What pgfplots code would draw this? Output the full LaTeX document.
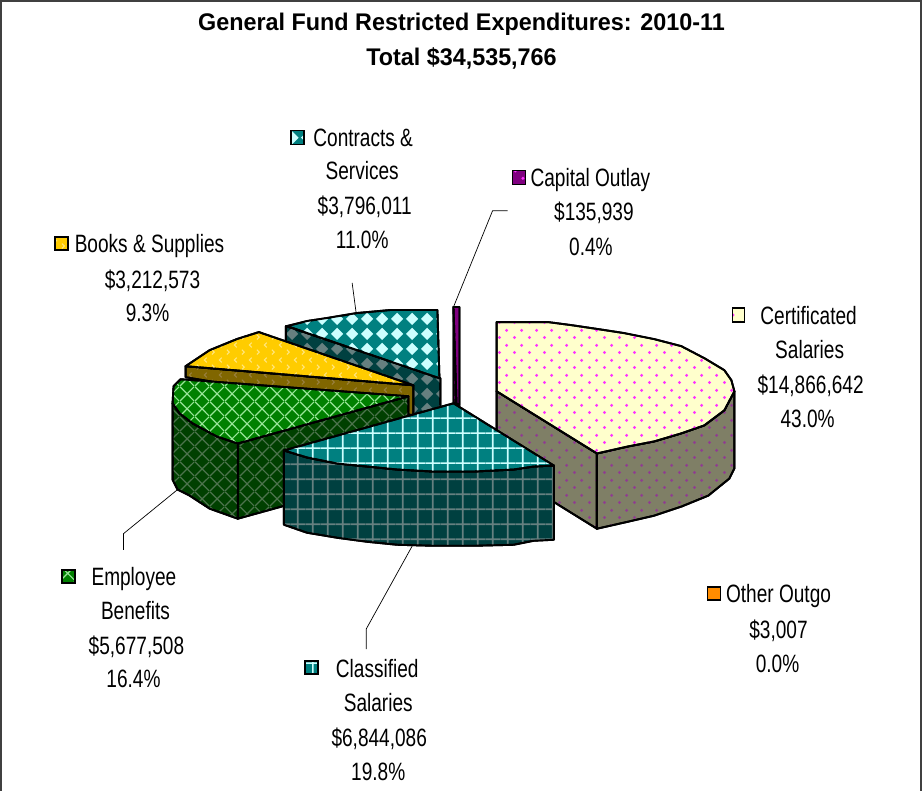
\documentclass[border=0pt]{standalone}
\usepackage{fontspec}
\setmainfont{Liberation Sans}[FakeStretch=0.76]
\newfontfamily\titlefont{Liberation Sans}[FakeStretch=0.97]
\usepackage{pgfplots}
\pgfplotsset{compat=1.18}
\usetikzlibrary{patterns}
\pgfdeclarepatternformonly{pdots}{\pgfqpoint{0pt}{0pt}}{\pgfqpoint{15pt}{15pt}}{\pgfqpoint{15pt}{15pt}}{%
 \pgfpathcircle{\pgfqpoint{3.75pt}{3.75pt}}{1.7pt}\pgfpathcircle{\pgfqpoint{11.25pt}{11.25pt}}{1.7pt}\pgfusepath{fill}}
\pgfdeclarepatternformonly{pgrid}{\pgfqpoint{0pt}{0pt}}{\pgfqpoint{15.3pt}{15.3pt}}{\pgfqpoint{15.3pt}{15.3pt}}{%
 \pgfsetlinewidth{1.6pt}\pgfpathmoveto{\pgfqpoint{7pt}{0pt}}\pgfpathlineto{\pgfqpoint{7pt}{15.3pt}}%
 \pgfpathmoveto{\pgfqpoint{0pt}{7pt}}\pgfpathlineto{\pgfqpoint{15.3pt}{7pt}}\pgfusepath{stroke}}
\pgfdeclarepatternformonly{pdiag}{\pgfqpoint{0pt}{0pt}}{\pgfqpoint{15pt}{15pt}}{\pgfqpoint{15pt}{15pt}}{%
 \pgfsetlinewidth{1.2pt}\pgfpathmoveto{\pgfqpoint{0pt}{0pt}}\pgfpathlineto{\pgfqpoint{15pt}{15pt}}%
 \pgfpathmoveto{\pgfqpoint{0pt}{15pt}}\pgfpathlineto{\pgfqpoint{15pt}{0pt}}\pgfusepath{stroke}}
\pgfdeclarepatternformonly{pdiam}{\pgfqpoint{0pt}{0pt}}{\pgfqpoint{15pt}{15pt}}{\pgfqpoint{15pt}{15pt}}{%
 \pgfpathmoveto{\pgfqpoint{7.5pt}{1pt}}\pgfpathlineto{\pgfqpoint{14pt}{7.5pt}}\pgfpathlineto{\pgfqpoint{7.5pt}{14pt}}\pgfpathlineto{\pgfqpoint{1pt}{7.5pt}}\pgfpathclose
 \pgfusepath{fill}}
\pgfdeclarepatternformonly{pchev}{\pgfqpoint{0pt}{0pt}}{\pgfqpoint{15pt}{15pt}}{\pgfqpoint{15pt}{15pt}}{%
 \pgfsetlinewidth{1.1pt}\pgfpathmoveto{\pgfqpoint{2pt}{1.5pt}}\pgfpathlineto{\pgfqpoint{4.5pt}{4pt}}\pgfpathlineto{\pgfqpoint{2pt}{6.5pt}}%
 \pgfpathmoveto{\pgfqpoint{12.5pt}{9pt}}\pgfpathlineto{\pgfqpoint{10pt}{11.5pt}}\pgfpathlineto{\pgfqpoint{12.5pt}{14pt}}\pgfusepath{stroke}}
\definecolor{certT}{HTML}{FFFFCC}\definecolor{certTp}{HTML}{FF33FF}
\definecolor{certS}{HTML}{7F7F66}\definecolor{certSp}{HTML}{8F3F8F}
\definecolor{tealT}{HTML}{008080}\definecolor{tealTp}{HTML}{CCFFFF}
\definecolor{tealS}{HTML}{004040}\definecolor{tealSp}{HTML}{668080}
\definecolor{grnT}{HTML}{008000}\definecolor{grnTp}{HTML}{99E699}
\definecolor{grnS}{HTML}{004000}\definecolor{grnSp}{HTML}{4D734D}
\definecolor{bkT}{HTML}{FFCC00}\definecolor{bkTp}{HTML}{FFE680}
\definecolor{bkS}{HTML}{806600}\definecolor{bkSp}{HTML}{998040}
\definecolor{capT}{HTML}{800080}\definecolor{capS}{HTML}{400040}
\pgfplotsset{
 face/.style n args={3}{draw=black,line width=1.9pt,line join=round,no marks,fill=none,pattern=#1,pattern color=#3,preaction={fill=#2}},
 key/.style n args={3}{draw=black,line width=1.5pt,line join=miter,no marks,pattern=#1,pattern color=#3,preaction={fill=#2}},
 leader/.style={draw=black,line width=0.7pt,no marks},
}
\newcommand{\lab}[3]{\node[inner sep=0pt,anchor=base,yshift=-10pt,font=\fontsize{25}{30}\selectfont] at (axis cs:#1,#2) {#3};}
\begin{document}
\begin{tikzpicture}
\begin{axis}[width=922pt,height=791pt,scale only axis,xmin=0,xmax=922,ymin=0,ymax=791,y dir=reverse,hide axis,clip=false]
% frame
\addplot[draw=black!75,line width=2pt,no marks] coordinates {(2,791) (2,4) (919,4) (919,791)};
% leader lines
\addplot[leader] coordinates {(507,213) (492,213) (453,309)};
\addplot[leader] coordinates {(352,285) (356,315)};
\addplot[leader] coordinates {(124,551) (124,535) (178,491)};
\addplot[leader] coordinates {(366,650) (366,630) (412,547)};
% Contracts & Services
\addplot[face={pdiam}{tealS}{tealSp}] coordinates {(286,328) (440,380) (440,455) (286,403)} --cycle;
\addplot[face={pdiam}{tealT}{tealTp}] coordinates {(437,312) (390,312) (357,315) (327,320) (307,323) (287,328) (439,380)} --cycle;
% Capital Outlay
\addplot[face={pdots}{capS}{capT}] coordinates {(453,309) (456,378) (456,405) (453,405)} --cycle;
\addplot[face={pdots}{capT}{capT}] coordinates {(453,309) (459,309) (459,407) (456,405)} --cycle;
% Books & Supplies
\addplot[face={pchev}{bkS}{bkSp}] coordinates {(186,368) (413,387) (413,417) (186,379)} --cycle;
\addplot[face={pchev}{bkT}{bkTp}] coordinates {(259,334) (237,341) (210,352) (195,362) (186,368) (413,387)} --cycle;
% Certificated Salaries
\addplot[face={pdots}{certS}{certSp}] coordinates {(496,393) (596,455) (596,530) (496,468)} --cycle;
\addplot[face={pdots}{certS}{certSp}] coordinates {(596,455) (627,448) (653,443) (680,435) (703,427) (723,412) (733,393) (733,470) (728,480) (707,497) (680,508) (653,517) (627,523) (596,530)} --cycle;
\addplot[face={pdots}{certT}{certTp}] coordinates {(496,324) (547,324) (570,327) (597,331) (623,335) (653,341) (680,348) (703,360) (723,372) (730,382) (733,393) (723,412) (703,427) (680,435) (653,443) (627,448) (596,455) (496,393)} --cycle;
% Employee Benefits
\addplot[face={pdiag}{grnS}{grnSp}] coordinates {(238,445) (408,398) (408,473) (238,520)} --cycle;
\addplot[face={pdiag}{grnS}{grnSp}] coordinates {(173,405) (180,415) (193,425) (217,438) (238,445) (238,520) (210,510) (190,497) (178,491) (173,481)} --cycle;
\addplot[face={pdiag}{grnT}{grnTp}] coordinates {(408,398) (238,445) (217,438) (193,425) (180,415) (173,405) (174,388) (181,381)} --cycle;
% Classified Salaries
\addplot[face={pgrid}{tealS}{tealSp}] coordinates {(284,452) (307,459) (337,465) (367,468) (397,471) (433,473) (473,473) (513,471) (533,468) (553,467) (553,541) (533,542) (513,546) (473,547) (433,547) (397,546) (367,543) (337,539) (307,534) (284,526)} --cycle;
\addplot[face={pgrid}{tealT}{tealTp}] coordinates {(453,405) (553,467) (533,468) (513,471) (473,473) (433,473) (397,471) (367,468) (337,465) (307,459) (284,452)} --cycle;
% legend keys
\addplot[key={pdiam}{tealT}{tealTp}] coordinates {(291,133) (304,133) (304,147) (291,147)} --cycle;
\addplot[key={pdots}{capT}{certTp}] coordinates {(512,173) (525,173) (525,187) (512,187)} --cycle;
\addplot[key={pchev}{bkT}{bkTp}] coordinates {(56,239) (69,239) (69,252) (56,252)} --cycle;
\addplot[key={pdots}{certT}{certTp}] coordinates {(731,310) (743,310) (743,324) (731,324)} --cycle;
\addplot[draw=black,line width=1.5pt,fill=orange!90!yellow,no marks] coordinates {(706,588) (719,588) (719,601) (706,601)} --cycle;
\addplot[key={pdiag}{grnT}{grnTp}] coordinates {(63,571) (76,571) (76,584) (63,584)} --cycle;
\addplot[key={pgrid}{tealT}{tealTp}] coordinates {(305,662) (318,662) (318,675) (305,675)} --cycle;
% title
\node[inner sep=0pt,anchor=base,font=\titlefont\bfseries\fontsize{24}{29}\selectfont] at (axis cs:461,33) {General Fund Restricted Expenditures: 2010-11};
\node[inner sep=0pt,anchor=base,font=\titlefont\bfseries\fontsize{24}{29}\selectfont] at (axis cs:461,68) {Total \$34,535,766};
% labels
\lab{363}{139}{Contracts \&}\lab{362}{172}{Services}\lab{364.5}{207}{\$3,796,011}\lab{362}{241}{11.0\%}
\lab{589.5}{179}{Capital Outlay}\lab{593}{213}{\$135,939}\lab{590}{248}{0.4\%}
\lab{150}{245}{Books \& Supplies}\lab{153}{281}{\$3,212,573}\lab{148}{313}{9.3\%}
\lab{807}{316}{Certificated}\lab{808}{350}{Salaries}\lab{809}{385}{\$14,866,642}\lab{806}{419}{43.0\%}
\lab{777}{594}{Other Outgo}\lab{777}{629}{\$3,007}\lab{776}{663}{0.0\%}
\lab{134.5}{577}{Employee}\lab{136}{610}{Benefits}\lab{137}{645}{\$5,677,508}\lab{134}{678}{16.4\%}
\lab{377}{668}{Classified}\lab{378}{702}{Salaries}\lab{379}{737}{\$6,844,086}\lab{378}{771}{19.8\%}
\end{axis}
\end{tikzpicture}
\end{document}
